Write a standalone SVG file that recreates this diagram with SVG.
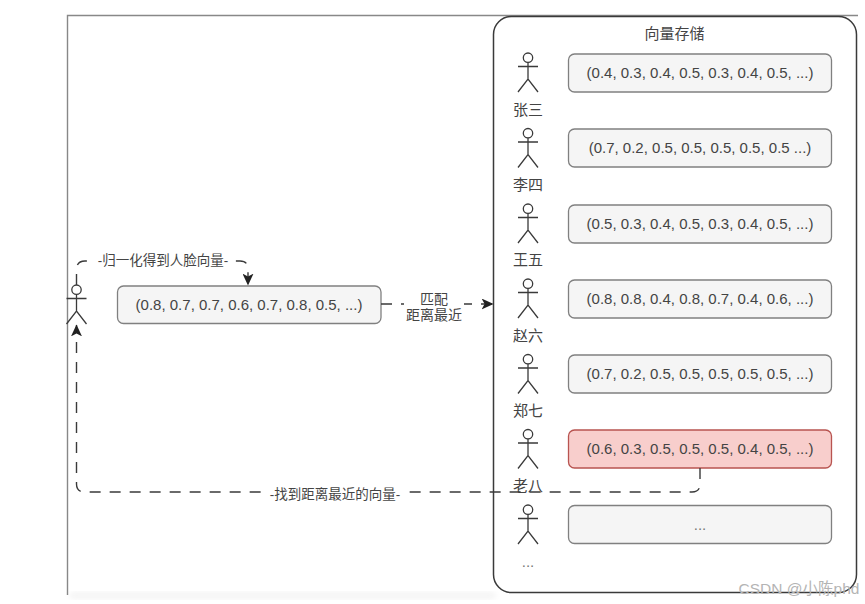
<svg xmlns="http://www.w3.org/2000/svg" xmlns:xlink="http://www.w3.org/1999/xlink" width="865" height="604" viewBox="0 0 865 604">
<style>
text{font-family:"Liberation Sans","Noto Sans CJK SC",sans-serif;font-size:15px;fill:#444;text-anchor:middle}
.box{fill:#f5f5f5;stroke:#808080;stroke-width:1.3}
.red{fill:#f8cecc;stroke:#b85450;stroke-width:1.3}
.fig{fill:none;stroke:#3a3a3a;stroke-width:1.3}
.conn{fill:none;stroke:#3a3a3a;stroke-width:1.4;stroke-dasharray:11 9}
.lbl{fill:#fff}
.edge{font-size:13.500px}
</style>
<defs>
<marker id="arrow" viewBox="0 0 10 10" refX="9.500" refY="5" markerWidth="12" markerHeight="11" markerUnits="userSpaceOnUse" orient="auto" preserveAspectRatio="none"><path d="M0 0L10 5L0 10L2.500 5Z" fill="#222"/></marker>
<g id="actor" class="fig"><circle cx="0" cy="4.700" r="4.700"/><path d="M0 9.400V26M-10 13.500H10M-10 39L0 26L10 39"/></g>
<filter id="blur" x="-5%" y="-100%" width="110%" height="300%"><feGaussianBlur stdDeviation="3"/></filter>
</defs>
<rect width="865" height="604" fill="#fff"/>
<g id="frame">
<rect x="70" y="594" width="425" height="3" fill="#e6e6e6" filter="url(#blur)"/>
<path d="M67.500 595V15.500H858" fill="none" stroke="#888" stroke-width="1.400"/>
</g>
<g id="storage">
<rect x="493.500" y="16.500" width="363" height="576" rx="18" fill="#fff" stroke="#3a3a3a" stroke-width="1.500"/>
<text x="674.500" y="39">向量存储</text>
</g>
<g id="person-query"><use xlink:href="#actor" transform="translate(76.500 285)"/></g>
<g id="query-vector"><rect class="box" x="117.500" y="286" width="263.500" height="37.500" rx="6"/><text x="249" y="310">(0.8, 0.7, 0.7, 0.6, 0.7, 0.8, 0.5, ...)</text></g>
<g id="p1"><use xlink:href="#actor" transform="translate(528 53)"/><text x="528" y="115">张三</text></g>
<g id="v1"><rect class="box" x="568.500" y="54" width="263" height="38" rx="6"/><text x="700" y="78">(0.4, 0.3, 0.4, 0.5, 0.3, 0.4, 0.5, ...)</text></g>
<g id="p2"><use xlink:href="#actor" transform="translate(528 128.500)"/><text x="528" y="190">李四</text></g>
<g id="v2"><rect class="box" x="568.500" y="129" width="263" height="38" rx="6"/><text x="700" y="153">(0.7, 0.2, 0.5, 0.5, 0.5, 0.5, 0.5 ...)</text></g>
<g id="p3"><use xlink:href="#actor" transform="translate(528 204)"/><text x="528" y="265">王五</text></g>
<g id="v3"><rect class="box" x="568.500" y="205" width="263" height="38" rx="6"/><text x="700" y="229">(0.5, 0.3, 0.4, 0.5, 0.3, 0.4, 0.5, ...)</text></g>
<g id="p4"><use xlink:href="#actor" transform="translate(528 279)"/><text x="528" y="341">赵六</text></g>
<g id="v4"><rect class="box" x="568.500" y="280" width="263" height="38" rx="6"/><text x="700" y="304">(0.8, 0.8, 0.4, 0.8, 0.7, 0.4, 0.6, ...)</text></g>
<g id="p5"><use xlink:href="#actor" transform="translate(528 354.500)"/><text x="528" y="416">郑七</text></g>
<g id="v5"><rect class="box" x="568.500" y="355" width="263" height="38" rx="6"/><text x="700" y="379">(0.7, 0.2, 0.5, 0.5, 0.5, 0.5, 0.5, ...)</text></g>
<g id="p6"><use xlink:href="#actor" transform="translate(528 429.500)"/><text x="528" y="491">老八</text></g>
<g id="v6"><rect class="red" x="568.500" y="430" width="263" height="38" rx="6"/><text x="700" y="454">(0.6, 0.3, 0.5, 0.5, 0.5, 0.4, 0.5, ...)</text></g>
<g id="p7"><use xlink:href="#actor" transform="translate(528 505)"/><text x="528" y="567" style="fill:#777">...</text></g>
<g id="v7"><rect class="box" x="568.500" y="505.500" width="263" height="38" rx="6"/><text x="700" y="530" style="fill:#777">...</text></g>
<g id="connectors">
<path class="conn" d="M76.500 285V270Q76.500 261 85 261H240Q248 261 248 269V285" marker-end="url(#arrow)"/>
<rect class="lbl" x="92" y="252" width="141" height="18"/>
<text class="edge" x="163" y="265">-归一化得到人脸向量-</text>
<path class="conn" d="M381 304H493" marker-end="url(#arrow)"/>
<rect class="lbl" x="404" y="291" width="60" height="32"/>
<text style="font-size:14px" x="434" y="304">匹配</text>
<text style="font-size:14px" x="434" y="320">距离最近</text>
<path class="conn" d="M700 468V484Q700 492 692 492H85Q76.500 492 76.500 484V325" marker-end="url(#arrow)"/>
<rect class="lbl" x="268" y="484" width="134" height="17"/>
<text style="font-size:13.500px" x="335" y="499">-找到距离最近的向量-</text>
</g>
<text id="watermark" x="799" y="594" style="fill:#b4b4b4;font-size:15.500px">CSDN @小陈phd</text>
</svg>
